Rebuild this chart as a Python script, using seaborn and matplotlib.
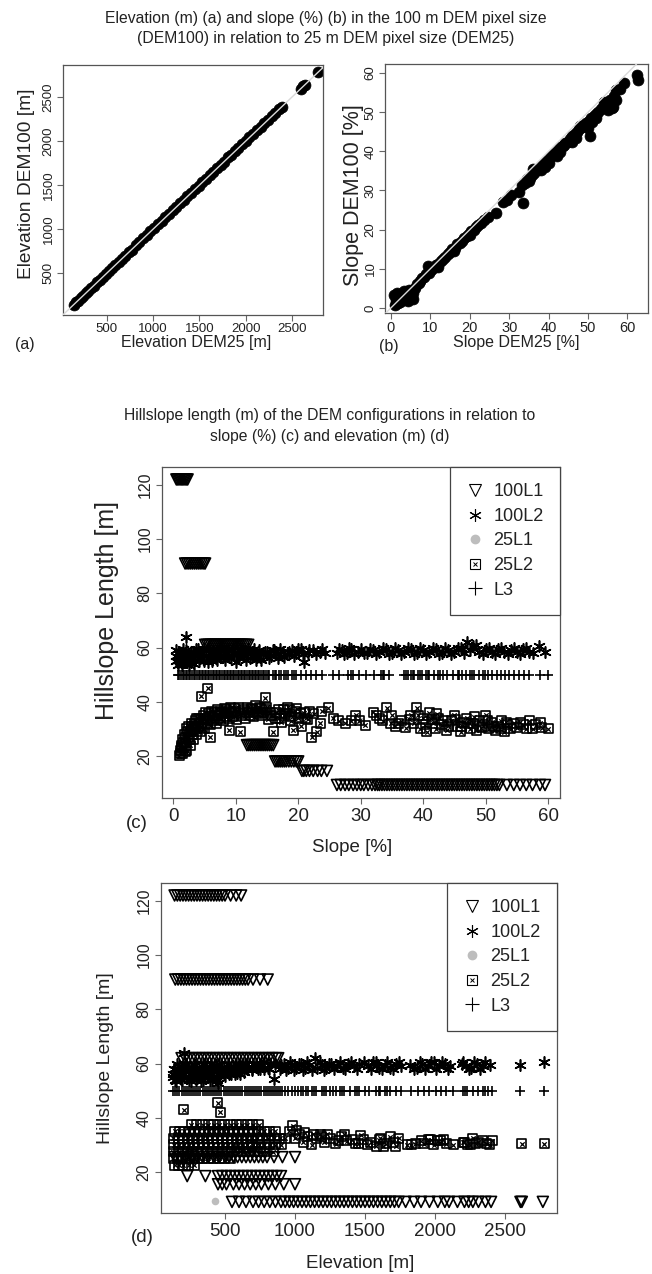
import numpy as np
import pandas as pd
import seaborn as sns
import matplotlib.pyplot as plt
from matplotlib.lines import Line2D

# ---- (a) elevation DEM25 vs DEM100 ----
elev25 = [140, 165, 190, 215, 245, 270, 300, 330, 360, 390, 420, 455, 490, 520, 555, 590,
          625, 660, 700, 735, 770, 810, 850, 890, 930, 970, 1010, 1050, 1090, 1130, 1170,
          1210, 1250, 1290, 1330, 1370, 1410, 1450, 1490, 1530, 1570, 1610, 1650, 1690,
          1730, 1760, 1810, 1840, 1880, 1920, 1960, 2000, 2040, 2080, 2120, 2160, 2200,
          2240, 2280, 2320, 2360, 2390, 2600, 2620, 2640, 2780]
elev100 = [138, 168, 186, 218, 241, 274, 297, 334, 357, 393, 417, 458, 487, 523, 552, 593,
           622, 663, 697, 738, 767, 813, 847, 893, 927, 973, 1007, 1053, 1087, 1133, 1167,
           1213, 1247, 1293, 1327, 1373, 1407, 1453, 1487, 1533, 1567, 1613, 1647, 1693,
           1727, 1763, 1815, 1837, 1883, 1917, 1963, 1997, 2043, 2077, 2123, 2157, 2203,
           2237, 2283, 2317, 2363, 2388, 2595, 2625, 2635, 2785]

# ---- (b) slope DEM25 vs DEM100 ----
slope25 = [0.8, 1.0, 1.3, 1.5, 1.8, 2.0, 2.3, 2.6, 3.0, 3.3, 3.6, 4.0, 4.3, 4.6, 5.0, 5.3,
           5.7, 6.0, 6.5, 7.0, 7.5, 8.0, 8.5, 9.0, 9.3, 9.6, 10.2, 10.8, 11.4, 12.0, 12.6,
           13.2, 13.8, 14.4, 15.0, 15.6, 16.2, 16.8, 17.4, 18.0, 18.6, 19.2, 19.8, 20.4,
           21.0, 21.6, 22.2, 22.8, 23.5, 24.5, 26.7, 28.5, 29.5, 30.5, 32.5, 33.3, 33.5,
           34.0, 34.6, 35.2, 35.8, 36.4, 37.0, 37.6, 38.2, 38.8, 39.4, 40.0, 40.6, 41.2,
           41.8, 42.4, 43.0, 43.6, 44.2, 44.8, 45.4, 46.0, 46.6, 47.2, 47.8, 48.4, 49.0,
           49.6, 50.2, 50.5, 50.8, 51.4, 52.0, 52.6, 53.2, 53.8, 54.4, 55.0, 55.6, 56.0,
           56.4, 56.6, 57.0, 59.0, 62.5, 62.7, 36.0, 38.0, 40.0, 42.0, 44.0, 46.0, 48.0,
           50.0, 52.0, 54.0, 55.0, 57.0, 58.0, 3.0, 5.5, 12.0, 16.0, 20.0, 35.0, 39.0,
           43.0, 47.0, 51.0]
slope100 = [3.2, 0.8, 2.0, 3.8, 1.2, 2.6, 1.5, 3.3, 2.0, 4.2, 2.8, 3.5, 1.8, 4.5, 3.0, 4.6,
            2.2, 5.2, 6.0, 6.3, 7.0, 7.6, 8.0, 8.6, 10.8, 9.0, 9.6, 10.2, 10.9, 11.3, 12.0,
            12.6, 13.0, 13.7, 14.2, 15.0, 15.4, 16.2, 16.5, 17.2, 17.8, 18.3, 18.8, 19.6,
            20.0, 20.7, 21.2, 21.8, 22.5, 23.2, 24.2, 27.0, 27.6, 28.8, 29.6, 31.5, 26.8,
            32.0, 32.8, 33.2, 34.0, 34.5, 35.2, 35.6, 36.5, 36.8, 37.6, 38.0, 38.7, 39.2,
            39.8, 40.4, 41.0, 41.4, 42.2, 42.5, 43.2, 44.0, 44.4, 45.0, 45.6, 46.2, 46.8,
            47.3, 47.8, 44.0, 48.4, 49.0, 49.5, 50.0, 50.7, 51.4, 51.8, 52.5, 53.2, 51.0,
            51.3, 54.0, 55.6, 57.4, 59.4, 58.2, 35.5, 35.2, 37.0, 38.8, 41.5, 42.5, 46.5,
            46.0, 48.5, 52.5, 50.5, 53.0, 56.0, 3.6, 3.8, 10.5, 14.5, 18.5, 32.5, 36.0,
            39.8, 43.5, 47.5]

# ---- (c) hillslope length vs slope ----
c_l1_levels = [122, 91, 61, 24, 18, 14.5, 9.3]
c_l1_slope = [
    [0.5, 0.7, 0.9, 1.1, 1.3, 1.5, 1.7, 1.9, 2.1, 2.3],
    [1.9, 2.2, 2.5, 2.8, 3.1, 3.4, 3.7, 4.0, 4.3, 4.6, 4.9, 5.1],
    [5.1, 5.4, 5.7, 6.0, 6.3, 6.6, 6.9, 7.2, 7.5, 7.8, 8.1, 8.4, 8.7, 9.0, 9.3, 9.6, 9.9,
     10.2, 10.5, 10.8, 11.1, 11.4, 11.7, 12.0],
    [11.8, 12.1, 12.4, 12.7, 13.0, 13.3, 13.6, 13.9, 14.2, 14.5, 14.8, 15.1, 15.4, 15.7, 16.0],
    [16.3, 16.6, 16.9, 17.2, 17.5, 17.8, 18.1, 18.5, 18.9, 19.3, 19.7, 20.0],
    [20.6, 20.9, 21.3, 21.8, 22.4, 23.1, 23.7, 24.6],
    [26.2, 26.8, 27.5, 28.1, 28.8, 29.4, 30.0, 30.5, 31.2, 31.8, 32.3, 32.7, 33.0, 33.4,
     33.8, 34.2, 34.6, 35.0, 35.4, 35.8, 36.2, 36.6, 37.0, 37.4, 37.8, 38.2, 38.6, 39.0,
     39.4, 39.8, 40.2, 40.6, 41.0, 41.4, 41.8, 42.2, 42.6, 43.0, 43.4, 43.8, 44.2, 44.6,
     45.0, 45.4, 45.8, 46.2, 46.6, 47.0, 47.4, 47.8, 48.2, 48.6, 49.0, 49.4, 49.8, 50.2,
     50.6, 51.0, 51.4, 51.8, 52.2, 53.4, 54.5, 55.5, 56.5, 57.5, 58.7, 59.5],
]
c_l2_slope = [0.4, 0.5, 0.7, 0.9, 1.0, 1.2, 1.3, 1.5, 1.7, 1.9, 2.0, 2.1, 2.3, 2.5, 2.8, 3.0,
              3.2, 3.5, 3.8, 4.0, 4.3, 4.6, 5.0, 5.3, 5.6, 6.0, 6.4, 6.8, 7.2, 7.6, 8.0, 8.5,
              9.0, 9.5, 10.0, 10.2, 10.8, 11.3, 11.8, 12.3, 12.8, 13.3, 13.8, 14.3, 15.0,
              15.6, 16.2, 16.8, 17.5, 18.2, 19.0, 19.7, 20.5, 21.0, 21.5, 22.3, 23.5, 24.3,
              26.2, 27.0, 27.8, 28.5, 29.5, 31, 32, 33, 34, 35, 36, 37, 38, 39, 40, 41, 42,
              43, 44, 45, 46, 47, 47.5, 48, 49, 50, 51, 52, 53, 54, 55, 56, 57, 58.5, 59.5,
              0.5, 0.8, 1.1, 1.4, 1.6, 2.2, 2.6, 2.9, 3.4, 3.7, 4.1, 4.5, 4.9, 5.5, 5.9, 6.2,
              6.7, 7.0, 7.4, 7.9, 8.3, 8.8, 9.3, 9.8, 10.5, 11.0, 11.6, 12.0, 12.6, 13.0,
              13.6, 14.0, 14.7, 15.3, 15.9, 16.5, 17.1, 17.8, 18.6, 19.3, 20.0, 20.8, 21.8,
              22.8, 23.8, 26.6, 27.4, 28.2, 29.0, 30.0, 30.5, 31.5, 32.5, 33.5, 34.5, 35.5,
              36.5, 37.5, 38.5, 39.5, 40.5, 41.5, 42.5, 43.5, 44.5, 45.5, 46.5, 48.5, 49.5,
              50.5, 51.5, 52.5, 53.5, 54.5, 55.5, 56.5, 57.5]
c_l2_len = [55, 57, 53.5, 56, 58.5, 54.5, 56.5, 58, 55, 57, 64, 59, 55.5, 57.5, 54.5, 56.5,
            58.5, 55.5, 57.5, 59.5, 56, 58, 55, 57, 59, 56.5, 58.5, 56, 58, 60, 56.5, 58.5,
            57, 59, 54.5, 57.5, 59.5, 57, 58.5, 56, 58.5, 55.5, 59, 57.5, 58.5, 57, 59, 56,
            58.5, 57.5, 59, 58, 59.5, 54.5, 58, 59, 58.5, 58, 58, 59, 58, 59.5, 58.5, 58, 59,
            58.5, 59.5, 58, 59, 58.5, 59.5, 58, 59, 58.5, 59.5, 58, 59, 58.5, 60, 62, 59,
            60.5, 58.5, 59.5, 58.5, 59.5, 58.5, 59, 58.5, 59.5, 58.5, 60.5, 58.3,
            59, 55.5, 57.5, 53.5, 59.5, 56.5, 53.5, 58.5, 54, 59.5, 55, 57.5, 59.5, 54.5, 58,
            55, 57.5, 55.5, 59, 57, 55.5, 59.5, 56, 58, 56, 58.5, 55.5, 59.5, 57, 59.5, 57,
            55.5, 58.5, 56, 59, 57.5, 59.5, 56.5, 58.5, 57, 59.5, 57.5, 59, 57.5, 59.5, 59.5,
            57.5, 60, 57.5, 59.5, 58, 59.5, 57.5, 60, 57.5, 60, 57.5, 60, 57.5, 60, 57.5, 60,
            57.5, 60, 57.5, 60, 58, 61, 57.5, 60, 57.5, 60, 57.5, 60, 57.5, 60, 58]
c_25l1_slope = [2.0, 4.0, 7.0, 12.0, 30.0, 45.0]
c_25l1_len = [26, 31, 34, 35, 33, 32]
c_25l2_slope = [1.0, 1.2, 1.3, 1.5, 1.5, 1.7, 1.8, 2.0, 2.1, 2.2, 2.4, 2.5, 2.7, 2.8, 3.0,
                3.2, 3.3, 3.5, 3.7, 3.9, 4.0, 4.3, 4.5, 4.5, 4.8, 5.0, 5.3, 5.5, 5.6, 5.9,
                6.0, 6.3, 6.6, 7.0, 7.3, 7.6, 8.0, 8.3, 8.6, 9.0, 9.0, 9.4, 9.8, 10.2, 10.7,
                10.7, 11.2, 11.6, 12.0, 12.5, 12.9, 13.3, 13.8, 14.2, 14.7, 14.8, 15.2, 15.5,
                16.0, 16.3, 16.8, 17.3, 17.8, 18.3, 18.8, 19.2, 19.5, 20.0, 20.5, 21.0, 21.5,
                22.2, 22.5, 23.0, 23.5, 23.8, 24.8, 25.6, 26.5, 27.5, 28.5, 29.2, 29.8, 30.7,
                32.0, 32.5, 33.5, 34.2, 34.8, 35.5, 36.5, 37.2, 38.0, 38.5, 39.0, 39.5, 40.0,
                40.6, 41.0, 41.5, 42.0, 42.5, 43.0, 43.8, 44.5, 45.0, 45.5, 46.0, 46.5, 47.0,
                47.5, 48.0, 48.5, 49.0, 49.5, 50.0, 50.5, 51.0, 51.5, 52.0, 52.5, 53.0, 53.5,
                54.5, 55.0, 56.0, 57.0, 57.5, 58.7, 60.0,
                1.1, 1.4, 1.6, 1.9, 2.0, 2.3, 2.6, 2.9, 3.1, 3.4, 3.6, 3.8, 4.1, 4.4, 4.7, 4.9,
                5.2, 5.5, 5.8, 6.2, 6.5, 6.8, 7.1, 7.5, 7.8, 8.2, 8.5, 8.8, 9.2, 9.6, 10.0,
                10.4, 10.9, 11.4, 11.9, 12.3, 12.7, 13.1, 13.6, 14.0, 14.5, 15.0, 15.8, 16.5,
                17.0, 17.6, 18.0, 18.6, 19.0, 19.8, 20.3, 21.2, 21.8, 33.0, 35.0, 36.0, 37.8,
                39.2, 40.3, 41.3, 42.2, 43.3, 44.0, 45.2, 46.2, 47.3, 48.2, 49.3, 50.3, 51.3,
                52.3, 53.3, 54.0, 55.5, 56.5, 58.0, 59.0]
c_25l2_len = [20, 22, 24, 21, 26, 23, 28, 25, 30, 22, 27, 31, 24, 29, 32, 26, 30, 33, 28, 31,
              34, 29, 32, 42, 35, 30, 33, 45, 35.5, 27, 31.5, 34, 36, 32, 35, 36.5, 33, 35.5,
              37, 29.5, 34, 36, 37.5, 33.5, 29, 35.5, 37, 34, 36, 37.5, 34.5, 36.5, 38, 35,
              41.5, 37, 33.5, 36, 29, 34, 37, 32.5, 35, 38, 33, 29.5, 36.5, 34, 31, 36, 33.5,
              27, 35.5, 29, 32, 36.5, 37.7, 34, 33, 32, 33, 35, 33, 31.4, 36.2, 35, 33, 37.7,
              32, 31, 33, 30.5, 35, 32, 37.7, 30, 34, 29, 36, 32, 30, 34, 31.5, 29.5, 33, 35,
              31, 29, 32.5, 34, 30, 32, 29.5, 33, 31, 35, 30, 32.5, 29.5, 31, 33, 29, 31.5,
              32, 30.5, 31.5, 33, 30, 32.2, 30,
              21, 23, 25, 27, 21.5, 29, 26, 31, 28, 32, 30, 34, 31, 33.5, 30.5, 34, 36, 32,
              34.5, 36.5, 33, 35, 37, 34, 36, 37.5, 34.5, 36.5, 38, 34.5, 36.5, 38, 35, 36.5,
              38, 35, 37, 38.5, 35.5, 37.5, 36, 38, 35, 36, 34, 37, 35.5, 37, 34.5, 37.5,
              35.5, 34, 36.5, 34, 35, 32, 33.5, 35, 31.5, 33.5, 35.5, 33, 31, 33.5, 31, 32,
              34.5, 30.5, 33, 31, 30, 32.5, 30, 32.5, 30, 31.5, 30.5]
c_l3_slope = [0.8, 1.0, 1.25, 1.5, 1.75, 2.0, 2.25, 2.5, 2.75, 3.0, 3.3, 3.55, 3.8, 4.05, 4.3,
              4.55, 4.8, 5.05, 5.3, 5.55, 5.8, 6.05, 6.3, 6.55, 6.8, 7.05, 7.3, 7.55, 7.8,
              8.05, 8.3, 8.55, 8.8, 9.05, 9.3, 9.55, 9.8, 10.05, 10.3, 10.55, 10.8, 11.05,
              11.3, 11.55, 11.8, 12.05, 12.3, 12.55, 12.8, 13.05, 13.3, 13.55, 13.8, 14.05,
              14.3, 14.55, 14.8, 15.1, 15.4, 16.0, 16.3, 16.5, 17.0, 17.2, 17.8, 18.1, 18.4,
              19.0, 19.3, 19.7, 20.5, 21.3, 22.1, 22.9, 23.8, 25.6, 26.5, 28.0, 28.4, 28.8,
              29.8, 30.9, 32.2, 33.2, 33.5, 33.8, 34.6, 37.0, 37.3, 37.5, 38.0, 38.3, 38.6,
              39.2, 39.5, 39.8, 40.4, 40.7, 41.0, 41.7, 42.4, 42.7, 43.1, 43.8, 44.8, 45.5,
              45.8, 46.2, 46.9, 47.5, 47.8, 48.2, 48.9, 49.6, 49.9, 50.3, 51.0, 51.8, 52.4,
              53.1, 53.8, 54.6, 55.4, 56.2, 57.0, 58.7, 60.0]
l3_len = 50

# ---- (d) hillslope length vs elevation ----
d_l1_levels = [122, 91, 62, 25.5, 18.5, 15.5, 9]
d_l1_elev = [
    [140, 160, 180, 200, 220, 240, 260, 280, 300, 320, 340, 360, 380, 400, 420, 440, 460,
     480, 500, 540, 580, 615],
    [145, 165, 185, 205, 225, 245, 265, 285, 305, 325, 345, 365, 385, 405, 425, 445, 465,
     485, 505, 525, 545, 565, 585, 605, 625, 645, 665, 700, 750, 805],
    [190, 215, 240, 265, 290, 315, 340, 365, 390, 415, 440, 465, 490, 515, 540, 565, 590,
     615, 640, 665, 690, 715, 740, 765, 790, 815, 840, 865, 880],
    [140, 180, 220, 260, 300, 340, 380, 420, 460, 500, 530, 560, 590, 620, 650, 680, 710,
     740, 770, 800, 850, 910, 1000],
    [230, 360, 450, 480, 510, 540, 570, 600, 630, 660, 690, 720, 750, 780, 810, 840, 870, 900],
    [450, 480, 510, 560, 600, 640, 680, 720, 760, 810, 860, 920, 1000],
    [550, 600, 650, 700, 740, 780, 820, 860, 900, 930, 960, 990, 1020, 1050, 1080, 1110,
     1140, 1170, 1200, 1230, 1260, 1290, 1320, 1350, 1380, 1410, 1440, 1470, 1500, 1530,
     1560, 1590, 1620, 1650, 1680, 1710, 1740, 1790, 1850, 1900, 1960, 2020, 2070, 2100,
     2160, 2210, 2240, 2270, 2310, 2360, 2400, 2610, 2620, 2770],
]
# dense 100L2 cloud at low elevation, read row by row
d_l2_rows_len = [54, 56, 58, 60]
d_l2_rows_elev = [
    [140, 190, 240, 290, 340, 390, 440],
    [130, 170, 210, 250, 290, 330, 370, 410, 450, 490, 530, 570, 610],
    [135, 175, 215, 255, 295, 335, 375, 415, 455, 495, 535, 575, 615, 655, 695, 735, 775, 815],
    [160, 220, 280, 340, 400, 460, 520, 580, 640, 700, 760, 820],
]
d_l2_elev = [130, 135, 150, 160, 170, 185, 195, 210, 215, 225, 240, 255, 270, 285, 300, 315,
             330, 345, 360, 375, 390, 405, 420, 435, 450, 465, 480, 500, 520, 540, 560, 585,
             610, 635, 660, 690, 720, 750, 780, 810, 850, 860, 890, 920, 950, 980, 1010,
             1040, 1070, 1100, 1140, 1160, 1190, 1220, 1260, 1300, 1340, 1380, 1420, 1460,
             1520, 1560, 1600, 1640, 1680, 1720, 1760, 1820, 1870, 1910, 1950, 1990, 2030,
             2070, 2110, 2190, 2220, 2260, 2300, 2340, 2390, 2610, 2780,
             900, 935, 965, 995, 1025, 1055, 1085, 1120, 1175, 1205, 1240, 1280, 1320, 1360,
             1400, 1440, 1490, 1540, 1580, 1620, 1660, 1700, 1740, 1850, 1890, 1930, 1970,
             2010, 2050, 2090, 2200, 2240, 2280, 2320, 2360]
d_l2_len = [55, 58, 53.5, 56.5, 59, 54.5, 57.5, 64, 60, 55, 58, 53.5, 56.5, 59.5, 55, 58,
            53.5, 57, 60, 55.5, 58.5, 54, 57, 59.5, 53, 56, 58.5, 55.5, 58, 56, 59, 56.5,
            59.5, 57, 60, 57.5, 60, 58, 60.5, 58.5, 54.5, 60, 58, 60, 58.5, 59.5, 58.5, 60,
            58.5, 59.5, 62, 58.5, 59.5, 58.5, 60, 59, 58.5, 60, 59, 60, 59, 60.5, 58.5, 59.5,
            58.5, 60, 59, 59.5, 58.5, 60, 59, 60.5, 59, 60, 59, 60, 59, 58.5, 60, 59, 59.5,
            59.5, 60.5,
            59.5, 57.5, 60.5, 57.5, 60, 57.5, 60.5, 57.5, 60.5, 57.5, 60, 58, 60.5, 58, 60.5,
            58, 60.5, 58, 60.5, 58, 60.5, 58, 60.5, 58, 60.5, 58, 60.5, 58, 60.5, 58, 60.5,
            58, 60.5, 58, 60.5]
d_25l1_elev = [430, 250, 600, 1200, 2000]
d_25l1_len = [9.3, 28, 31, 32, 31]
# dense 25L2 cloud at low elevation, read row by row
d_sq_rows_len = [22.5, 25, 27.5, 30, 32.5, 35, 37.5]
d_sq_rows_elev = [
    [140, 170, 200, 240, 280],
    [130, 160, 190, 220, 250, 280, 310, 340, 380, 420, 460, 500, 540],
    [130, 165, 200, 235, 270, 305, 340, 375, 410, 445, 480, 515, 550, 590, 630, 670, 710,
     750, 790],
    [135, 170, 205, 240, 275, 310, 345, 380, 415, 450, 485, 520, 555, 590, 625, 660, 700,
     740, 780, 820, 860, 900],
    [130, 165, 200, 235, 270, 305, 340, 375, 410, 445, 480, 515, 550, 585, 620, 655, 690,
     730, 770, 810, 850, 890, 930],
    [140, 175, 210, 245, 280, 315, 350, 385, 420, 455, 490, 525, 560, 595, 630, 665, 700,
     740, 780, 820, 860],
    [260, 300, 340, 380, 420, 460, 500, 540, 580, 620, 660, 700, 740],
]
d_25l2_elev = [205, 270, 450, 465, 607, 693, 843, 985, 1000, 1030, 1060, 1090, 1120, 1150,
               1180, 1210, 1250, 1290, 1330, 1370, 1410, 1450, 1490, 1540, 1580, 1610, 1650,
               1700, 1740, 1800, 1860, 1900, 1950, 1990, 2040, 2080, 2130, 2200, 2230, 2270,
               2310, 2370, 2410, 2620, 2780, 960, 1010, 1070, 1130, 1190, 1230, 1310, 1350,
               1430, 1470, 1520, 1600, 1630, 1680, 1720, 1830, 1920, 1970, 2020, 2060, 2210,
               2250, 2290, 2340, 2390]
d_25l2_len = [43, 26.3, 45.5, 42, 28.9, 29.3, 27.4, 37, 32.5, 34, 31, 33, 30, 32.5, 34, 31,
              32.5, 30.5, 33, 31.5, 32, 30.5, 32, 31, 29.5, 32.5, 30.5, 31, 32.5, 30, 30.5,
              31.5, 32, 30, 31.5, 30.5, 30, 31, 30, 32.5, 31, 30.5, 31.5, 30.5, 30.5, 35,
              35.5, 34.5, 34, 33, 34, 31.5, 34, 30.5, 33.5, 30, 32, 29.5, 33, 29.5, 30, 30.5,
              32, 31.5, 32, 31, 30, 30.5, 31.5, 30]
d_l3_elev = [130, 145, 160, 175, 190, 205, 220, 235, 250, 265, 280, 295, 310, 325, 340, 355,
             370, 385, 400, 415, 430, 445, 460, 475, 490, 505, 520, 535, 550, 565, 580, 595,
             610, 625, 640, 655, 670, 685, 700, 715, 730, 745, 760, 775, 790, 805, 820, 835,
             850, 865, 880, 895, 910, 930, 950, 980, 1000, 1020, 1040, 1060, 1075, 1090,
             1120, 1135, 1150, 1190, 1205, 1220, 1250, 1270, 1290, 1320, 1335, 1350, 1390,
             1430, 1445, 1460, 1500, 1530, 1580, 1600, 1610, 1640, 1660, 1680, 1720, 1760,
             1830, 1880, 1920, 1960, 2010, 2040, 2080, 2130, 2200, 2215, 2230, 2270, 2310,
             2340, 2360, 2380, 2410, 2610, 2780]

legend_labels = ["100L1", "100L2", "25L1", "25L2", "L3"]

W, H = 652, 1274
sns.set_style("white")
plt.rcParams["font.family"] = ["Liberation Sans", "DejaVu Sans"]
plt.rcParams["axes.linewidth"] = 0.9
TXT = "#222222"

fig = plt.figure(figsize=(W / 100, H / 100), dpi=100)


def box(l, t, r, b):
    return fig.add_axes([l / W, 1 - b / H, (r - l) / W, (b - t) / H])


def ftext(x, y, s, **kw):
    fig.text(x / W, 1 - y / H, s, ha="center", va="center", color=TXT, **kw)


def style(ax, xt, yt, xfs, yfs, pad):
    ax.set_xticks(xt)
    ax.set_yticks(yt)
    for sp in ax.spines.values():
        sp.set_color("#555555")
    ax.tick_params(axis="both", direction="out", length=4, width=0.8, color="#666666",
                   labelcolor=TXT, pad=pad, bottom=True, left=True)
    ax.tick_params(axis="x", labelsize=xfs)
    ax.tick_params(axis="y", labelsize=yfs)
    for lb in ax.get_yticklabels():
        lb.set_rotation(90)
        lb.set_va("center")
    ax.set_xlabel("")
    ax.set_ylabel("")


def dots(ax, x, y, **kw):
    sns.scatterplot(x=x, y=y, ax=ax, legend=False, **kw)


def level_frame(levels, xs):
    rows = [(x, lv) for lv, xx in zip(levels, xs) for x in xx]
    return pd.DataFrame(rows, columns=["x", "y"])


def with_rows(xs, ys, levels, rows):
    extra = level_frame(levels, rows)
    return pd.concat([pd.DataFrame({"x": xs, "y": ys}), extra], ignore_index=True)


# titles
ftext(326, 18, "Elevation (m) (a) and slope (%) (b) in the 100 m DEM pixel size", fontsize=11.3)
ftext(326, 39, "(DEM100) in relation to 25 m DEM pixel size (DEM25)", fontsize=11.3)
ftext(330, 415, "Hillslope length (m) of the DEM configurations in relation to", fontsize=11.3)
ftext(330, 436, "slope (%) (c) and elevation (m) (d)", fontsize=11.3)

# (a)
ax_a = box(63, 65, 323, 315)
dots(ax_a, elev25, elev100, s=62, color="black", edgecolor="black", linewidth=0.5, zorder=2)
ax_a.axline((0, 0), slope=1, color="#d9d9d9", lw=1, zorder=3)
ax_a.set_xlim(25, 2835)
ax_a.set_ylim(23, 2864)
style(ax_a, [500, 1000, 1500, 2000, 2500], [500, 1000, 1500, 2000, 2500], 9.5, 9.5, 2)
ftext(196, 343, "Elevation DEM25 [m]", fontsize=11.5)
ftext(27, 184, "Elevation DEM100 [m]", fontsize=13.8, rotation=90)
ftext(25, 344, "(a)", fontsize=11.5)

# (b)
ax_b = box(385, 64, 648, 313)
dots(ax_b, slope25, slope100, s=62, color="black", edgecolor="black", linewidth=0.5, zorder=2)
ax_b.axline((0, 0), slope=1, color="#d9d9d9", lw=1, zorder=3)
ax_b.set_xlim(-1.5, 65.2)
ax_b.set_ylim(-1.3, 62.3)
style(ax_b, [0, 10, 20, 30, 40, 50, 60], [0, 10, 20, 30, 40, 50, 60], 10.5, 9.5, 2)
ftext(516, 343, "Slope DEM25 [%]", fontsize=11.5)
ftext(353, 195, "Slope DEM100 [%]", fontsize=15.5, rotation=90)
ftext(389, 346, "(b)", fontsize=11.5)

LW = 1.2
tri = dict(marker="v", s=62, color="black", facecolor="none", edgecolor="black", linewidth=LW)
ast = dict(marker=(6, 2, 0), s=64, color="black", linewidth=LW)
grey = dict(marker="o", s=30, color="#bdbdbd", edgecolor="#bdbdbd", linewidth=0)
sq = dict(marker="s", s=42, color="black", facecolor="none", edgecolor="black", linewidth=LW)
sqx = dict(marker="x", s=10, color="black", linewidth=0.9)
plus = dict(marker="+", s=46, color="black", linewidth=LW)


def hills(ax, l1, l2, g1x, g1y, g2, l3x):
    dots(ax, g1x, g1y, zorder=2, **grey)
    dots(ax, g2["x"], g2["y"], zorder=3, **sq)
    dots(ax, g2["x"], g2["y"], zorder=3, **sqx)
    dots(ax, l3x, [l3_len] * len(l3x), zorder=3, **plus)
    dots(ax, l2["x"], l2["y"], zorder=4, **ast)
    dots(ax, l1["x"], l1["y"], zorder=5, **tri)
    handles = [
        Line2D([], [], ls="none", marker="v", ms=8, mfc="none", mec="black", mew=0.8),
        Line2D([], [], ls="none", marker=(6, 2, 0), ms=9, mec="black", mew=0.8),
        Line2D([], [], ls="none", marker="o", ms=6, mfc="#bdbdbd", mec="#bdbdbd"),
        (Line2D([], [], ls="none", marker="s", ms=7, mfc="none", mec="black", mew=0.8),
         Line2D([], [], ls="none", marker="x", ms=3, mec="black", mew=0.7)),
        Line2D([], [], ls="none", marker="+", ms=10, mec="black", mew=0.8),
    ]
    leg = ax.legend(handles, legend_labels, loc="upper right", bbox_to_anchor=(1.0, 1.0),
                    fontsize=13, frameon=True, fancybox=False, borderaxespad=0,
                    handlelength=1.0, handletextpad=0.5, labelspacing=0.42,
                    borderpad=0.9, framealpha=1)
    leg.get_frame().set_edgecolor("#444444")
    leg.get_frame().set_linewidth(0.9)
    leg.set_zorder(10)
    for t in leg.get_texts():
        t.set_color(TXT)


# (c)
ax_c = box(162, 467, 560, 798)
hills(ax_c, level_frame(c_l1_levels, c_l1_slope),
      pd.DataFrame({"x": c_l2_slope, "y": c_l2_len}),
      c_25l1_slope, c_25l1_len,
      pd.DataFrame({"x": c_25l2_slope, "y": c_25l2_len}), c_l3_slope)
ax_c.set_xlim(-1.8, 61.9)
ax_c.set_ylim(4.5, 126.6)
style(ax_c, [0, 10, 20, 30, 40, 50, 60], [20, 40, 60, 80, 100, 120], 13.5, 11.5, 3)
ftext(352, 848, "Slope [%]", fontsize=13.5)
ftext(107, 610, "Hillslope Length [m]", fontsize=18, rotation=90)
ftext(137, 823, "(c)", fontsize=13.5)

# (d)
ax_d = box(161, 883, 557, 1213)
hills(ax_d, level_frame(d_l1_levels, d_l1_elev),
      with_rows(d_l2_elev, d_l2_len, d_l2_rows_len, d_l2_rows_elev),
      d_25l1_elev, d_25l1_len,
      with_rows(d_25l2_elev, d_25l2_len, d_sq_rows_len, d_sq_rows_elev), d_l3_elev)
ax_d.set_xlim(43, 2871)
ax_d.set_ylim(4.9, 126.6)
style(ax_d, [500, 1000, 1500, 2000, 2500], [20, 40, 60, 80, 100, 120], 13.5, 11.5, 3)
ftext(360, 1264, "Elevation [m]", fontsize=13.5)
ftext(106, 1058, "Hillslope Length [m]", fontsize=14, rotation=90)
ftext(142, 1238, "(d)", fontsize=13.5)

fig.savefig("out.png", dpi=100, facecolor="white")
